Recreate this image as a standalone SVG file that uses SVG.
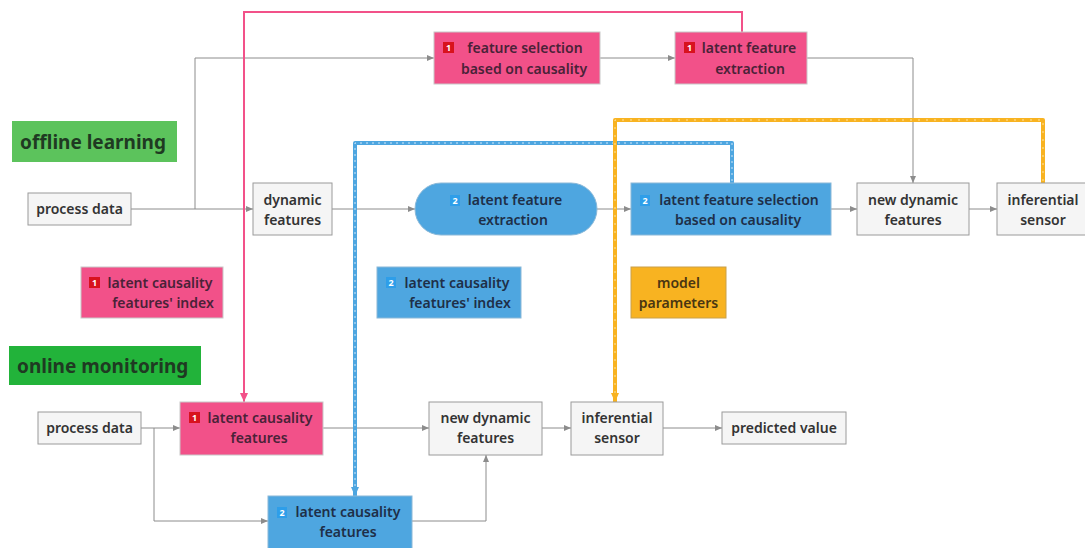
<svg xmlns="http://www.w3.org/2000/svg" width="1085" height="548" viewBox="0 0 1085 548">
<style>
text{font-family:"Noto Sans","Open Sans","DejaVu Sans",sans-serif;font-size:14px;font-weight:600;text-anchor:middle;fill:#333333}
.g rect{fill:#f5f5f5;stroke:#9a9a9a;stroke-width:1}
.p rect.b{fill:#f25189;stroke:#c8c8c8;stroke-width:1}
.p text{fill:#4a2238}
.bl rect.b{fill:#4ea6e0;stroke:#8ab8d8;stroke-width:1}
.bl text{fill:#1e2f48}
.o rect{fill:#f8b321;stroke:#c9a04a;stroke-width:1}
.o text{fill:#4a3612}
.lbl text{font-size:19px;font-weight:700;fill:#1f3a22;text-anchor:start}
.c{fill:none;stroke:#8c8c8c;stroke-width:1}
.b1{fill:#d8121e}
.b2{fill:#2e9ee9}
.p .bt,.bl .bt{font-size:9px;font-weight:700;fill:#ffffff}
</style>
<defs>
<marker id="ag" markerWidth="8" markerHeight="8" refX="7" refY="4" orient="auto" markerUnits="userSpaceOnUse"><path d="M0,1 L7,4 L0,7 Z" fill="#8c8c8c"/></marker>
<marker id="ap" markerWidth="10" markerHeight="10" refX="9" refY="5" orient="auto" markerUnits="userSpaceOnUse"><path d="M0,1 L9,5 L0,9 Z" fill="#f25189"/></marker>
<marker id="ab" markerWidth="10" markerHeight="10" refX="9" refY="5" orient="auto" markerUnits="userSpaceOnUse"><path d="M0,1 L9,5 L0,9 Z" fill="#4ea6e0"/></marker>
<marker id="ao" markerWidth="10" markerHeight="10" refX="9" refY="5" orient="auto" markerUnits="userSpaceOnUse"><path d="M0,1 L9,5 L0,9 Z" fill="#f8b321"/></marker>
</defs>
<rect width="1085" height="548" fill="#ffffff"/>

<g id="connectors">
<path class="c" d="M131,209 L253,209" marker-end="url(#ag)"/>
<path class="c" d="M195,209 L195,58 L434,58" marker-end="url(#ag)"/>
<path class="c" d="M600,58 L675,58" marker-end="url(#ag)"/>
<path class="c" d="M807,58 L913,58 L913,183" marker-end="url(#ag)"/>
<path class="c" d="M332,209 L415,209" marker-end="url(#ag)"/>
<path class="c" d="M597,209 L631,209" marker-end="url(#ag)"/>
<path class="c" d="M831,209 L857,209" marker-end="url(#ag)"/>
<path class="c" d="M969,209 L997,209" marker-end="url(#ag)"/>
<path class="c" d="M141,428 L180,428" marker-end="url(#ag)"/>
<path class="c" d="M154,428 L154,521 L268,521" marker-end="url(#ag)"/>
<path class="c" d="M323,428 L429,428" marker-end="url(#ag)"/>
<path class="c" d="M412,521 L486,521 L486,455" marker-end="url(#ag)"/>
<path class="c" d="M542,428 L571,428" marker-end="url(#ag)"/>
<path class="c" d="M663,428 L722,428" marker-end="url(#ag)"/>
<path d="M742,32 L742,12 L244,12 L244,402" fill="none" stroke="#f25189" stroke-width="2" marker-end="url(#ap)"/>
<path d="M732,183 L732,143 L355,143 L355,496" fill="none" stroke="#4ea6e0" stroke-width="4" stroke-linejoin="round" marker-end="url(#ab)"/>
<path d="M732,181 L732,143 L355,143 L355,488" fill="none" stroke="#cfe6f7" stroke-width="1" stroke-dasharray="2 4" stroke-linejoin="round"/>
<path d="M1043,183 L1043,120 L615,120 L615,402" fill="none" stroke="#f8b321" stroke-width="4" stroke-linejoin="round" marker-end="url(#ao)"/>
<path d="M1043,181 L1043,120 L615,120 L615,394" fill="none" stroke="#fde2a3" stroke-width="1" stroke-dasharray="2 6" stroke-linejoin="round"/>
</g>

<g id="label-offline" class="lbl"><rect x="12" y="121" width="165" height="41" fill="#5cc35c"/><text x="20" y="149">offline learning</text></g>
<g id="label-online" class="lbl"><rect x="9" y="346" width="192" height="39" fill="#22b33a"/><text x="17" y="373">online monitoring</text></g>

<g id="n-process-off" class="g"><rect x="28" y="193" width="103" height="32"/><text x="79.5" y="214">process data</text></g>
<g id="n-feat-sel" class="p"><rect class="b" x="434" y="32" width="166" height="52"/><rect class="b1" x="443" y="42" width="11" height="11"/><text class="bt" x="448.5" y="51">1</text><text x="525" y="53">feature selection</text><text x="524" y="74">based on causality</text></g>
<g id="n-latent-ext1" class="p"><rect class="b" x="675" y="32" width="132" height="52"/><rect class="b1" x="684" y="42" width="11" height="11"/><text class="bt" x="689.5" y="51">1</text><text x="749" y="53">latent feature</text><text x="750" y="74">extraction</text></g>
<g id="n-dyn" class="g"><rect x="253" y="183" width="79" height="52"/><text x="292.5" y="205">dynamic</text><text x="292.5" y="225">features</text></g>
<g id="n-latent-ext2" class="bl"><rect class="b" x="415" y="183" width="182" height="52" rx="26"/><rect class="b2" x="450" y="195" width="10" height="11"/><text class="bt" x="455" y="204">2</text><text x="515" y="205">latent feature</text><text x="513" y="225">extraction</text></g>
<g id="n-latent-sel2" class="bl"><rect class="b" x="631" y="183" width="200" height="52"/><rect class="b2" x="640" y="195" width="10" height="11"/><text class="bt" x="645" y="204">2</text><text x="739" y="205">latent feature selection</text><text x="738" y="225">based on causality</text></g>
<g id="n-newdyn-off" class="g"><rect x="857" y="183" width="112" height="52"/><text x="913" y="205">new dynamic</text><text x="913" y="225">features</text></g>
<g id="n-inf-off" class="g"><rect x="997" y="183" width="90" height="52"/><text x="1043" y="205">inferential</text><text x="1043" y="225">sensor</text></g>

<g id="n-idx1" class="p"><rect class="b" x="81" y="267" width="142" height="51"/><rect class="b1" x="89" y="277" width="11" height="11"/><text class="bt" x="94.5" y="286">1</text><text x="160" y="288">latent causality</text><text x="163" y="308">features' index</text></g>
<g id="n-idx2" class="bl"><rect class="b" x="377" y="267" width="144" height="51"/><rect class="b2" x="386" y="277" width="10" height="11"/><text class="bt" x="391" y="286">2</text><text x="457" y="288">latent causality</text><text x="460" y="308">features' index</text></g>
<g id="n-model" class="o"><rect x="631" y="267" width="95" height="51"/><text x="678.5" y="288">model</text><text x="678.5" y="308">parameters</text></g>

<g id="n-process-on" class="g"><rect x="38" y="412" width="103" height="32"/><text x="89.5" y="433">process data</text></g>
<g id="n-lcf1" class="p"><rect class="b" x="180" y="402" width="143" height="53"/><rect class="b1" x="189" y="412" width="11" height="11"/><text class="bt" x="194.5" y="421">1</text><text x="260" y="423">latent causality</text><text x="259" y="443">features</text></g>
<g id="n-lcf2" class="bl"><rect class="b" x="268" y="496" width="144" height="53"/><rect class="b2" x="277" y="507" width="10" height="11"/><text class="bt" x="282" y="516">2</text><text x="348" y="517">latent causality</text><text x="348" y="537">features</text></g>
<g id="n-newdyn-on" class="g"><rect x="429" y="402" width="113" height="53"/><text x="485.5" y="423">new dynamic</text><text x="485.5" y="443">features</text></g>
<g id="n-inf-on" class="g"><rect x="571" y="402" width="92" height="53"/><text x="617" y="423">inferential</text><text x="617" y="443">sensor</text></g>
<g id="n-pred" class="g"><rect x="722" y="412" width="124" height="32"/><text x="784" y="433">predicted value</text></g>
</svg>
